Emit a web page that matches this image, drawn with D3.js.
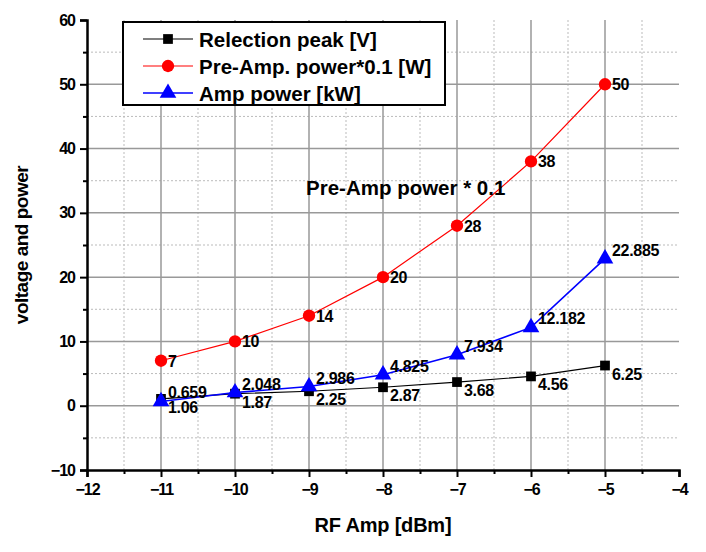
<!DOCTYPE html>
<html><head><meta charset="utf-8">
<script src="https://cdn.jsdelivr.net/npm/d3@7"></script>
<style>body{margin:0;background:#fff}text{font-family:"Liberation Sans",Arial,sans-serif}</style>
</head><body><svg id="c" width="706" height="552"></svg>
<script>
const xVals = [-11, -10, -9, -8, -7, -6, -5];
const reflectionPeak = [1.06, 1.87, 2.25, 2.87, 3.68, 4.56, 6.25];
const preAmpPower = [7, 10, 14, 20, 28, 38, 50];
const ampPower = [0.659, 2.048, 2.986, 4.825, 7.934, 12.182, 22.885];
const reflectionLabels = ["1.06", "1.87", "2.25", "2.87", "3.68", "4.56", "6.25"];
const preAmpLabels = ["7", "10", "14", "20", "28", "38", "50"];
const ampLabels = ["0.659", "2.048", "2.986", "4.825", "7.934", "12.182", "22.885"];
const xTicks = [-12, -11, -10, -9, -8, -7, -6, -5, -4];
const yTicks = [-10, 0, 10, 20, 30, 40, 50, 60];
const seriesNames = ["Relection peak [V]", "Pre-Amp. power*0.1 [W]", "Amp power [kW]"];

const svg = d3.select("#c");
const x = d3.scaleLinear().domain([-12, -4]).range([87, 679]);
const y = d3.scaleLinear().domain([-10, 60]).range([470, 20]);

// grid
const g = svg.append("g");
const minorX = d3.range(-11.5, -4, 1);
const minorY = d3.range(-5, 60, 10);
g.selectAll(".mx").data(minorX).join("line").attr("x1", d => x(d)).attr("x2", d => x(d))
  .attr("y1", y(-10)).attr("y2", y(60)).attr("stroke", "#bbb").attr("stroke-width", 1).attr("stroke-dasharray", "2,2");
g.selectAll(".my").data(minorY).join("line").attr("y1", d => y(d)).attr("y2", d => y(d))
  .attr("x1", x(-12)).attr("x2", x(-4)).attr("stroke", "#bbb").attr("stroke-width", 1).attr("stroke-dasharray", "2,2");
g.selectAll(".Mx").data(xTicks.slice(1, -1)).join("line").attr("x1", d => x(d)).attr("x2", d => x(d))
  .attr("y1", y(-10)).attr("y2", y(60)).attr("stroke", "#999").attr("stroke-width", 1.5);
g.selectAll(".My").data(yTicks.slice(1, -1)).join("line").attr("y1", d => y(d)).attr("y2", d => y(d))
  .attr("x1", x(-12)).attr("x2", x(-4)).attr("stroke", "#999").attr("stroke-width", 1.5);

// axes
svg.append("g").attr("transform", `translate(0,${y(-10)})`)
  .call(d3.axisBottom(x).tickValues(xTicks).tickFormat(d3.format("d")).tickSize(7).tickPadding(7));
svg.append("g").attr("transform", `translate(0,${y(-10)})`)
  .call(d3.axisBottom(x).tickValues(minorX).tickFormat("").tickSize(4)).call(a => a.select(".domain").remove());
svg.append("g").attr("transform", `translate(${x(-12)},0)`)
  .call(d3.axisLeft(y).tickValues(yTicks).tickFormat(d3.format("d")).tickSize(7).tickPadding(5));
svg.append("g").attr("transform", `translate(${x(-12)},0)`)
  .call(d3.axisLeft(y).tickValues(minorY).tickFormat("").tickSize(4)).call(a => a.select(".domain").remove());
svg.selectAll(".domain").attr("stroke", "#000").attr("stroke-width", 2.5);
svg.selectAll(".tick line").attr("stroke", "#000").attr("stroke-width", 2);
svg.selectAll(".tick text").attr("font-size", 16).attr("font-weight", "bold").attr("fill", "#000")
  .style("font-family", "'Liberation Sans',Arial,sans-serif").style("letter-spacing", "-1px");

// titles
svg.append("text").attr("x", 383).attr("y", 532).attr("text-anchor", "middle").attr("font-size", 20).attr("font-weight", "bold").style("letter-spacing", "-0.2px").text("RF Amp [dBm]");
svg.append("text").attr("transform", `translate(28,${y(25)}) rotate(-90)`).attr("text-anchor", "middle").attr("font-size", 19).attr("font-weight", "bold").style("letter-spacing", "-0.5px").text("voltage and power");

// series
const series = [
  {vals: reflectionPeak, labels: reflectionLabels, color: "#000", shape: d3.symbolSquare, size: 95, w: 1.2, dx: 7, dy: 14},
  {vals: preAmpPower, labels: preAmpLabels, color: "#f00", shape: d3.symbolCircle, size: 120, w: 1.2, dx: 7, dy: 6},
  {vals: ampPower, labels: ampLabels, color: "#00f", shape: d3.symbolTriangle, size: 120, w: 1.6, dx: 7, dy: -3}
];
const line = d3.line().x((d, i) => x(xVals[i])).y(d => y(d));
series.forEach(s => {
  svg.append("path").datum(s.vals).attr("d", line).attr("fill", "none").attr("stroke", s.color).attr("stroke-width", s.w);
});
series.forEach(s => {
  svg.selectAll(null).data(s.vals).join("path")
    .attr("transform", (d, i) => `translate(${x(xVals[i])},${y(d)})`)
    .attr("d", d3.symbol().type(s.shape).size(s.size)).attr("fill", s.color);
});
series.forEach(s => {
  svg.selectAll(null).data(s.vals).join("text")
    .attr("x", (d, i) => x(xVals[i]) + s.dx).attr("y", d => y(d) + s.dy)
    .attr("font-size", 16).attr("font-weight", "bold").attr("fill", "#000").style("letter-spacing", "-0.3px")
    .text((d, i) => s.labels[i]);
});

svg.append("text").attr("x", 306).attr("y", 195).attr("font-size", 20.5).attr("font-weight", "bold").text("Pre-Amp power * 0.1");

// legend
const lg = svg.append("g");
lg.append("rect").attr("x", 123).attr("y", 22).attr("width", 322).attr("height", 83).attr("fill", "#fff").attr("stroke", "#000").attr("stroke-width", 2);
series.forEach((s, i) => {
  const yy = 39 + i * 27;
  lg.append("line").attr("x1", 143).attr("x2", 193).attr("y1", yy).attr("y2", yy).attr("stroke", s.color).attr("stroke-width", s.w);
  lg.append("path").attr("transform", `translate(168,${yy})`).attr("d", d3.symbol().type(s.shape).size(s.size)).attr("fill", s.color);
  lg.append("text").attr("x", 199).attr("y", yy + 8).attr("font-size", 20.5).attr("font-weight", "bold").text(seriesNames[i]);
});
</script></body></html>
